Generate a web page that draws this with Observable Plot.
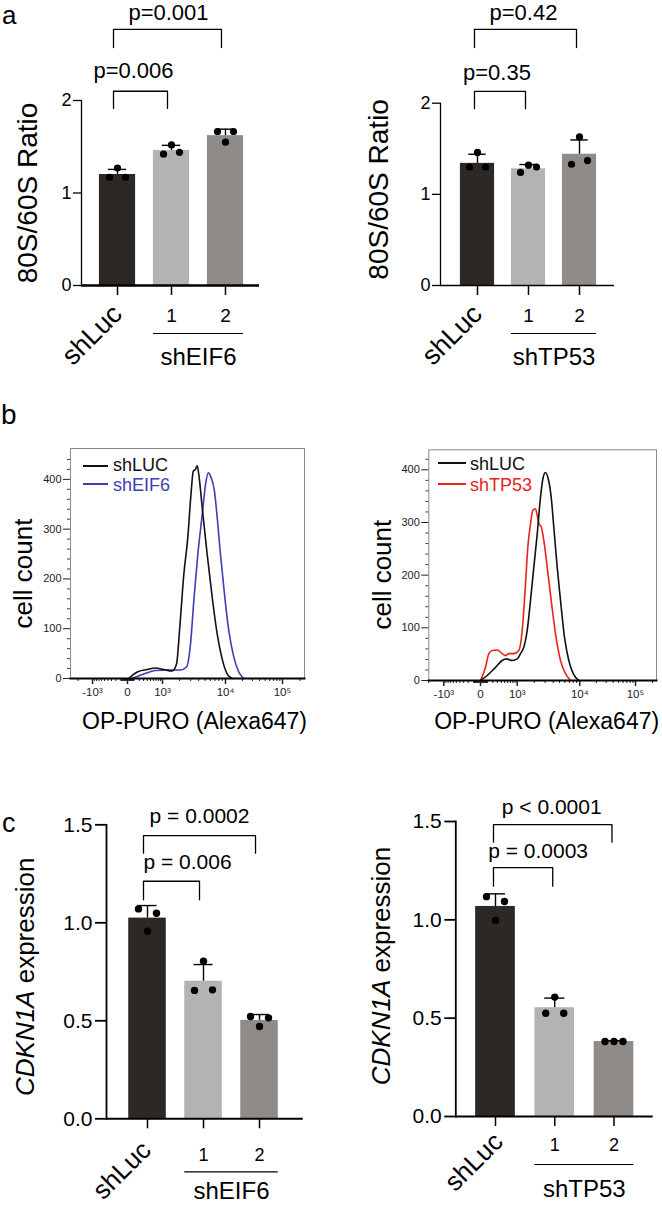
<!DOCTYPE html>
<html>
<head>
<meta charset="utf-8">
<script src="https://cdn.jsdelivr.net/npm/d3@7"></script>
<script src="https://cdn.jsdelivr.net/npm/@observablehq/plot@0.6"></script>
<style>
  html, body { margin: 0; padding: 0; background: #fff; }
  #fig { position: relative; width: 662px; height: 1205px; overflow: hidden;
         font-family: "Liberation Sans", Arial, Helvetica, sans-serif; color: #000; }
  .panel { position: absolute; }
  #overlay { position: absolute; left: 0; top: 0; pointer-events: none; }
</style>
</head>
<body>
<div id="fig"></div>
<script>
// ---------------- DATA ----------------
const groups = ["shLuc", "1", "2"];
const barFills = ["#2c2826", "#b4b2b4", "#8f8b88"];
const comparisons = [[0, 1], [0, 2]];

// Panel a: 80S/60S ratio
const ratioEIF6Mean = [1.20, 1.46, 1.62];
const ratioEIF6SD = [0.055, 0.055, 0.07];
const ratioEIF6Reps = [[1.17, 1.27, 1.17], [1.42, 1.52, 1.44], [1.665, 1.55, 1.665]];
const ratioEIF6P = ["p=0.006", "p=0.001"];
const ratioTP53Mean = [1.34, 1.28, 1.44];
const ratioTP53SD = [0.10, 0.047, 0.157];
const ratioTP53Reps = [[1.30, 1.46, 1.30], [1.24, 1.32, 1.30], [1.33, 1.63, 1.37]];
const ratioTP53P = ["p=0.35", "p=0.42"];
const ratioTicks = [0, 1, 2];

// Panel b: OP-PURO flow histograms (intensity, cell count)
const flowEIF6_shLUC_intensity = [18, 159, 398, 681, 1058, 1498, 1774, 2011, 2339, 2709, 3065, 3294, 3574, 3797, 4074, 4525, 5376, 6384, 7567, 8953, 10731, 13170];
const flowEIF6_shLUC_count = [0, 13, 18, 21, 18, 15, 29, 103, 209, 283, 376, 416, 420, 427, 403, 343, 249, 163, 89, 39, 9, 0];
const flowEIF6_shEIF6_intensity = [70, 307, 681, 1222, 2066, 2584, 2988, 3365, 3876, 4525, 5071, 5569, 6171, 6902, 7567, 8453, 9675, 11452, 14063, 17234, 21105];
const flowEIF6_shEIF6_count = [0, 9, 16, 17, 17, 23, 69, 156, 249, 329, 389, 413, 403, 376, 323, 249, 169, 96, 43, 13, 0];
const flowTP53_shLUC_intensity = [0, 98, 258, 427, 560, 773, 1000, 1153, 1324, 1519, 1731, 1967, 2239, 2531, 2797, 3042, 3353, 3731, 4092, 4613, 5173, 5943, 6888, 8001, 9674];
const flowTP53_shLUC_count = [0, 9.5, 25, 38, 41, 38, 41, 51, 63, 95, 152, 215, 278, 348, 386, 395, 383, 348, 291, 215, 152, 82, 38, 13, 0];
const flowTP53_shTP53_intensity = [0, 71, 125, 188, 297, 427, 528, 641, 841, 1072, 1239, 1419, 1557, 1731, 1894, 2098, 2239, 2413, 2598, 2860, 3233, 3731, 4343, 5173, 6153, 7305];
const flowTP53_shTP53_count = [0, 25, 51, 57, 58, 51, 47, 51, 51, 57, 95, 183, 253, 297, 323, 326, 313, 297, 292, 266, 215, 152, 89, 38, 13, 0];
const decadeTicks = [-1000, 0, 1000, 10000, 100000];
const decadeLabels = ["-10³", "0", "10³", "10⁴", "10⁵"];
const countMajorTicks = [0, 100, 200, 300, 400];

// Panel c: CDKN1A expression
const cdknEIF6Mean = [1.024, 0.702, 0.502];
const cdknEIF6SD = [0.064, 0.085, 0.030];
const cdknEIF6Reps = [[1.071, 0.957, 1.049], [0.655, 0.804, 0.658], [0.522, 0.471, 0.515]];
const cdknEIF6P = ["p = 0.006", "p = 0.0002"];
const cdknTP53Mean = [1.068, 0.553, 0.381];
const cdknTP53SD = [0.064, 0.049, 0.004];
const cdknTP53Reps = [[1.118, 0.997, 1.093], [0.525, 0.607, 0.525], [0.381, 0.381, 0.381]];
const cdknTP53P = ["p = 0.0003", "p < 0.0001"];
const cdknTicks = [0, 0.5, 1.0, 1.5];

// bracket levels (axis units): horizontal bar, leg end, label centre
const ratioEIF6Brackets = [{y: 2.10, leg: 1.914, ly: 2.32}, {y: 2.768, leg: 2.573, ly: 2.95}];
const ratioTP53Brackets = [{y: 2.13, leg: 1.94, ly: 2.33}, {y: 2.81, leg: 2.61, ly: 2.99}];
const cdknEIF6Brackets = [{y: 1.212, leg: 1.117, ly: 1.308}, {y: 1.445, leg: 1.355, ly: 1.541}];
const cdknTP53Brackets = [{y: 1.265, leg: 1.171, ly: 1.351}, {y: 1.484, leg: 1.395, ly: 1.572}];

// ---------------- HELPERS ----------------
const FONT = "'Liberation Sans', Arial, Helvetica, sans-serif";
const plotStyle = {fontFamily: FONT, fontSize: "12px", color: "#000", background: "transparent", overflow: "visible"};
const fig = document.getElementById("fig");

function place(node, left, top) {
  const d = document.createElement("div");
  d.className = "panel";
  d.style.left = left + "px";
  d.style.top = top + "px";
  d.appendChild(node);
  fig.appendChild(d);
}

function italicize(svg, word) {
  svg.querySelectorAll("text").forEach(t => {
    if (t.textContent.startsWith(word + " ")) {
      const rest = t.textContent.slice(word.length);
      const target = t.querySelector("tspan") || t;
      target.textContent = "";
      const ts = document.createElementNS("http://www.w3.org/2000/svg", "tspan");
      ts.setAttribute("font-style", "italic");
      ts.textContent = word;
      target.appendChild(ts);
      target.appendChild(document.createTextNode(rest));
    }
  });
}

function barPanel(c) {
  const hb = 0.335;
  const bars = groups.map((g, i) => ({i, g, mean: c.mean[i], sd: c.sd[i]}));
  const dots = c.reps.flatMap((r, i) => r.map((v, k) => ({i, k, v})));
  const brk = c.levels.flatMap((L, j) => {
    const [a, b] = comparisons[j];
    return [{j, x: a, y: L.leg}, {j, x: a, y: L.y}, {j, x: b, y: L.y}, {j, x: b, y: L.leg}];
  });
  const labs = c.levels.map((L, j) => ({x: (comparisons[j][0] + comparisons[j][1]) / 2, y: L.ly, t: c.p[j]}));
  return Plot.plot({
    width: 331, height: c.height,
    marginLeft: c.ml, marginRight: c.mr, marginTop: c.mt, marginBottom: c.mb,
    style: plotStyle,
    x: {domain: c.xDomain, axis: null},
    y: {domain: [0, c.ticks[c.ticks.length - 1]], axis: null},
    marks: [
      Plot.rectY(bars, {x1: d => d.i - hb, x2: d => d.i + hb, y1: 0, y2: "mean", fill: d => barFills[d.i]}),
      Plot.ruleX(bars, {x: "i", y1: "mean", y2: d => d.mean + d.sd, stroke: "#000", strokeWidth: 1.4}),
      Plot.ruleY(bars, {y: d => d.mean + d.sd, x1: d => d.i - 0.17, x2: d => d.i + 0.17, stroke: "#000", strokeWidth: 1.4}),
      ...[0, 1, 2].map(k => Plot.dot(dots.filter(d => d.k === k), {x: "i", y: "v", r: c.r, fill: "#000", stroke: "none", dx: (k - 1) * c.spread})),
      Plot.frame({anchor: "left", strokeWidth: c.yw}),
      Plot.ruleY([0], {strokeWidth: c.xw}),
      Plot.axisY({ticks: c.ticks, tickFormat: c.fmt, tickSize: c.tickSize, tickPadding: c.tickPad, fontSize: c.tickFont, strokeWidth: c.yw, label: null}),
      Plot.axisX({ticks: [0, 1, 2], tickFormat: () => "", tickSize: 10, strokeWidth: 1.5, label: null}),
      Plot.line(brk, {x: "x", y: "y", z: "j", stroke: "#000", strokeWidth: 1.3, dx: c.bdx}),
      ...labs.map((l, j) => Plot.text([l], {x: "x", y: "y", text: "t", fontSize: c.pFont, dx: c.pdx[j], lineAnchor: "middle"})),
      Plot.text(bars.slice(0, 1), {x: "i", text: "g", frameAnchor: "bottom", rotate: -45, textAnchor: "end", lineAnchor: "middle", fontSize: c.rotFont, dx: c.rotDx, dy: c.rotDy}),
      Plot.text(bars.slice(1), {x: "i", text: "g", frameAnchor: "bottom", lineAnchor: "middle", fontSize: c.numFont, dy: c.numDy}),
      Plot.ruleY([c.group], {y: 0, x1: d => d.from - hb, x2: d => d.to + hb, dy: c.lineDy, strokeWidth: 1.2}),
      Plot.text([c.group], {x: d => (d.from + d.to) / 2, text: "label", frameAnchor: "bottom", lineAnchor: "middle", fontSize: 24, dy: c.grpDy}),
      Plot.text([c.ytitle], {text: d => d, frameAnchor: "left", textAnchor: "middle", lineAnchor: "middle", rotate: -90, fontSize: c.titleFont, dx: c.titleDx, dy: c.titleDy})
    ]
  });
}

const intensityMinor = [-2000];
for (let k = 9; k >= 1; k--) intensityMinor.push(-k * 100);
for (let k = 9; k >= 1; k--) intensityMinor.push(-k * 10);
for (let k = 1; k <= 9; k++) intensityMinor.push(k * 10);
for (let k = 1; k <= 9; k++) intensityMinor.push(k * 100);
for (let k = 2; k <= 9; k++) intensityMinor.push(k * 1000);
for (let k = 2; k <= 9; k++) intensityMinor.push(k * 10000);
intensityMinor.push(200000);
const countMinorTicks = d3.range(20, 460, 20).filter(v => v % 100 !== 0);
const decadeLabelOf = new Map(decadeTicks.map((d, i) => [d, decadeLabels[i]]));

function flowPanel(c) {
  const s1 = c.ix1.map((x, i) => ({x, y: c.cy1[i]}));
  const s2 = c.ix2.map((x, i) => ({x, y: c.cy2[i]}));
  return Plot.plot({
    width: 331, height: 310,
    marginLeft: c.ml, marginRight: c.mr, marginTop: c.mt, marginBottom: c.mb,
    style: plotStyle,
    x: {type: "symlog", constant: 350, domain: decadeTicks, range: c.xr, axis: null},
    y: {domain: [0, c.ymax], axis: null},
    marks: [
      Plot.frame({stroke: "#8a8a8a", strokeWidth: 1}),
      Plot.axisY({ticks: countMinorTicks.filter(v => v < c.ymax), tickSize: 3, tickFormat: () => "", color: "#444", label: null}),
      Plot.axisY({ticks: countMajorTicks, tickSize: 7, tickPadding: 2, fontSize: 11, color: "#222", label: null}),
      Plot.axisX({ticks: intensityMinor, tickSize: 3, tickFormat: () => "", color: "#222", label: null}),
      Plot.axisX({ticks: decadeTicks, tickSize: 6, tickPadding: 3, fontSize: 11.5, tickFormat: d => decadeLabelOf.get(d), color: "#222", strokeWidth: 1.5, label: null}),
      Plot.line(s2, {x: "x", y: "y", stroke: c.color, strokeWidth: 1.6, curve: "monotone-x"}),
      Plot.line(s1, {x: "x", y: "y", stroke: "#111", strokeWidth: 1.6, curve: "monotone-x"}),
      Plot.frame({anchor: "bottom", strokeWidth: 2}),
      Plot.text(["cell count"], {text: d => d, frameAnchor: "left", textAnchor: "middle", lineAnchor: "middle", rotate: -90, fontSize: 26, dx: c.tdx, dy: c.tdy}),
      Plot.text(["OP-PURO (Alexa647)"], {text: d => d, frameAnchor: "bottom", lineAnchor: "middle", fontSize: 23, dx: c.xdx, dy: c.xdy})
    ]
  });
}

// ---------------- PANELS ----------------
const aCommon = {height: 370, mb: 85, r: 3.6, spread: 8, yw: 1.3, ticks: ratioTicks, fmt: d3.format("d"),
  tickSize: 8, tickPad: 2, tickFont: 18, pFont: 22, numFont: 19, numDy: 30, lineDy: 48, grpDy: 72,
  ytitle: "80S/60S Ratio", titleFont: 28, rotFont: 27};

place(barPanel({...aCommon, mean: ratioEIF6Mean, sd: ratioEIF6SD, reps: ratioEIF6Reps, p: ratioEIF6P,
  levels: ratioEIF6Brackets, ml: 81, mr: 72, mt: 100, xDomain: [-0.667, 2.63], xw: 2.5,
  bdx: -4, pdx: [-11, -3], rotDx: 0, rotDy: 24, group: {label: "shEIF6", from: 1, to: 2},
  titleDx: -53, titleDy: 0}), 0, 0);

place(barPanel({...aCommon, mean: ratioTP53Mean, sd: ratioTP53SD, reps: ratioTP53Reps, p: ratioTP53P,
  levels: ratioTP53Brackets, ml: 109, mr: 48, mt: 102.7, xDomain: [-0.725, 2.686], xw: 1.6,
  bdx: -3, pdx: [-6, -5], rotDx: 0, rotDy: 24, group: {label: "shTP53", from: 1, to: 2},
  titleDx: -61, titleDy: -5}), 331, 0);

place(flowPanel({ml: 70, mr: 27, mt: 18, mb: 62, xr: [92, 127, 162, 225, 282], ymax: 462,
  ix1: flowEIF6_shLUC_intensity, cy1: flowEIF6_shLUC_count,
  ix2: flowEIF6_shEIF6_intensity, cy2: flowEIF6_shEIF6_count, color: "#3d3db5",
  tdx: -47, tdy: 10, xdx: 7, xdy: 43}), 0, 430);

place(flowPanel({ml: 97.3, mr: 6, mt: 19.3, mb: 60, xr: [112.3, 149, 185.7, 248.3, 304], ymax: 438,
  ix1: flowTP53_shLUC_intensity, cy1: flowTP53_shLUC_count,
  ix2: flowTP53_shTP53_intensity, cy2: flowTP53_shTP53_count, color: "#e3261d",
  tdx: -46, tdy: 9.5, xdx: 4, xdy: 41}), 331, 430);

const cCommon = {height: 445, r: 3.7, spread: 9, yw: 1.8, xw: 2, ticks: cdknTicks, fmt: d3.format(".1f"),
  tickSize: 11, tickPad: 3, tickFont: 21, pFont: 21, numFont: 18, ytitle: "CDKN1A expression", titleFont: 26, rotFont: 26};

const cLeft = barPanel({...cCommon, mean: cdknEIF6Mean, sd: cdknEIF6SD, reps: cdknEIF6Reps, p: cdknEIF6P,
  levels: cdknEIF6Brackets, ml: 106, mr: 28.3, mt: 64.3, mb: 86.7, xDomain: [-0.732, 2.78],
  bdx: -4, pdx: [12, -4], rotDx: -1, rotDy: 27, numDy: 36, lineDy: 53, grpDy: 73,
  group: {label: "shEIF6", from: 1, to: 2}, titleDx: -81, titleDy: 5});
italicize(cLeft, "CDKN1A");
place(cLeft, 0, 760);

const cRight = barPanel({...cCommon, mean: cdknTP53Mean, sd: cdknTP53SD, reps: cdknTP53Reps, p: cdknTP53P,
  levels: cdknTP53Brackets, ml: 124.3, mr: 9.3, mt: 61, mb: 89, xDomain: [-0.670, 2.662],
  bdx: -2, pdx: [13, -3], rotDx: 3, rotDy: 21, numDy: 29, lineDy: 48, grpDy: 72.5,
  group: {label: "shTP53", from: 1, to: 2}, titleDx: -74.3, titleDy: -3});
italicize(cRight, "CDKN1A");
place(cRight, 331, 760);

// ---------------- PANEL LETTERS & FLOW LEGENDS ----------------
const NS = "http://www.w3.org/2000/svg";
const ov = document.createElementNS(NS, "svg");
ov.setAttribute("id", "overlay");
ov.setAttribute("width", 662);
ov.setAttribute("height", 1205);
ov.style.fontFamily = FONT;
const letters = [["a", 2, 24, 26], ["b", 1, 424, 28], ["c", 2, 832, 27]];
const legends = [
  {x1: 83, x2: 108, y: 466, tx: 113, ty: 470.5, label: "shLUC", color: "#111"},
  {x1: 83, x2: 108, y: 484, tx: 113, ty: 490.5, label: "shEIF6", color: "#3d3db5"},
  {x1: 438, x2: 466, y: 463, tx: 470, ty: 470, label: "shLUC", color: "#111"},
  {x1: 438, x2: 466, y: 484, tx: 470, ty: 491, label: "shTP53", color: "#e3261d"}
];
letters.forEach(([t, x, y, fs]) => {
  const e = document.createElementNS(NS, "text");
  e.setAttribute("x", x); e.setAttribute("y", y); e.setAttribute("font-size", fs);
  e.textContent = t; ov.appendChild(e);
});
legends.forEach(l => {
  const ln = document.createElementNS(NS, "line");
  ln.setAttribute("x1", l.x1); ln.setAttribute("x2", l.x2);
  ln.setAttribute("y1", l.y); ln.setAttribute("y2", l.y);
  ln.setAttribute("stroke", l.color); ln.setAttribute("stroke-width", 2);
  ov.appendChild(ln);
  const tx = document.createElementNS(NS, "text");
  tx.setAttribute("x", l.tx); tx.setAttribute("y", l.ty);
  tx.setAttribute("font-size", 18); tx.setAttribute("fill", l.color);
  tx.textContent = l.label; ov.appendChild(tx);
});
fig.appendChild(ov);
</script>
</body>
</html>
